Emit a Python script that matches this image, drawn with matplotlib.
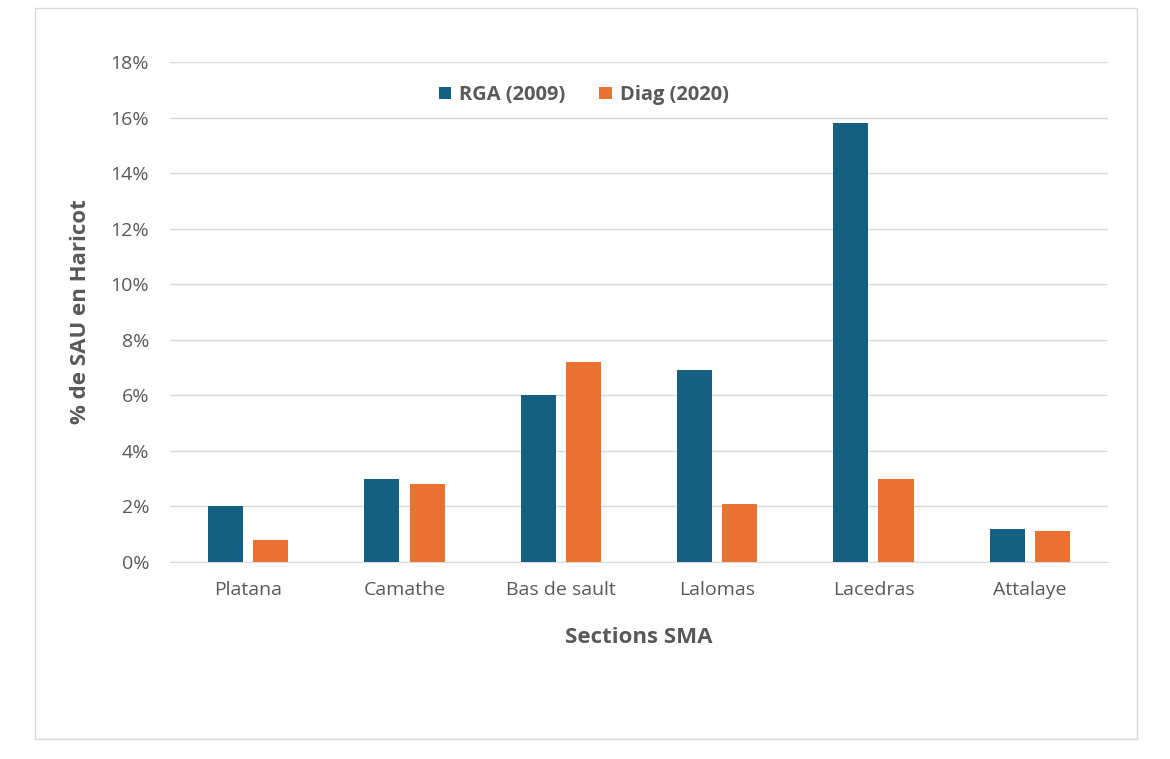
import numpy as np
import matplotlib.pyplot as plt
from matplotlib.patches import Rectangle
from matplotlib.ticker import PercentFormatter

sections = ['Platana', 'Camathe', 'Bas de sault', 'Lalomas', 'Lacedras', 'Attalaye']
rga_2009 = [2.0, 3.0, 6.0, 6.9, 15.8, 1.2]
diag_2020 = [0.8, 2.8, 7.2, 2.1, 3.0, 1.1]

plt.rcParams['font.family'] = ['Open Sans', 'DejaVu Sans']

fig = plt.figure(figsize=(11.7, 7.59), dpi=100)
ax = fig.add_axes([0.1453, 0.2596, 0.947 - 0.1453, 0.9183 - 0.2596])

# chart border
fig.patches.append(Rectangle((35 / 1170, 1 - 739 / 759), 1102 / 1170, 731 / 759,
                             transform=fig.transFigure, fill=False,
                             edgecolor='#D9D9D9', linewidth=1))

x = np.arange(len(sections))
w = 0.224
ax.bar(x - 0.144, rga_2009, w, color='#156082', label='RGA (2009)', zorder=3)
ax.bar(x + 0.144, diag_2020, w, color='#E97132', label='Diag (2020)', zorder=3)

ax.set_xlim(-0.5, len(sections) - 0.5)
ax.set_ylim(0, 18)
ax.set_yticks(np.arange(0, 19, 2))
ax.yaxis.set_major_formatter(PercentFormatter(decimals=0))
ax.set_xticks(x)
ax.set_xticklabels(sections)
ax.grid(axis='y', color='#D9D9D9', linewidth=1, zorder=0)
for s in ['top', 'right', 'left']:
    ax.spines[s].set_visible(False)
ax.spines['bottom'].set_color('#D9D9D9')
ax.tick_params(length=0, labelsize=14, labelcolor='#595959')
ax.tick_params(axis='y', pad=15)
ax.tick_params(axis='x', pad=14)

ax.set_xlabel('Sections SMA', fontsize=16, fontweight='bold', color='#595959', labelpad=20)
ax.set_ylabel('% de SAU en Haricot', fontsize=16, fontweight='bold', color='#595959', labelpad=14)

ax.legend(loc='upper center', bbox_to_anchor=(0.441, 0.99), ncol=2, frameon=False,
          prop={'size': 14.5, 'weight': 'bold'}, labelcolor='#595959',
          handlelength=0.6, handleheight=0.6, handletextpad=0.4, columnspacing=1.7)

fig.savefig('out.png', dpi=100)
